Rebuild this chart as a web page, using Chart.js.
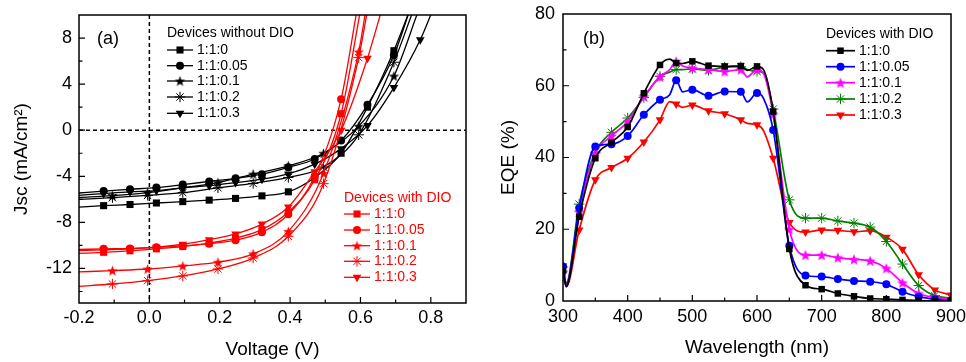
<!DOCTYPE html>
<html><head><meta charset="utf-8">
<script src="https://cdn.jsdelivr.net/npm/chart.js@4/dist/chart.umd.min.js"></script>
<style>
html,body{margin:0;padding:0;background:#fff;}
#wrap{position:relative;width:966px;height:362px;overflow:hidden;background:#fff;}
canvas{position:absolute;top:0;}
#ca{left:0;} #cb{left:483px;}
</style></head><body>
<div id="wrap"><canvas id="ca" width="483" height="362"></canvas><canvas id="cb" width="483" height="362"></canvas></div>
<script>
// ---------- data ----------
const ratioLabels = ['1:1:0','1:1:0.05','1:1:0.1','1:1:0.2','1:1:0.3'];

// Panel (a): devices without DIO (black)
const vNo0   = [-0.2,-0.13,-0.055,0.02,0.095,0.17,0.245,0.32,0.395,0.47,0.545,0.62,0.695,0.74];
const jNo0   = [-6.68,-6.55,-6.45,-6.32,-6.2,-6.07,-5.92,-5.7,-5.35,-4.1,-2.0,2.0,6.9,10.4];
const vNo005 = [-0.2,-0.13,-0.055,0.02,0.095,0.17,0.245,0.32,0.395,0.47,0.545,0.62,0.695,0.74];
const jNo005 = [-5.45,-5.28,-5.13,-4.98,-4.72,-4.45,-4.18,-3.82,-3.22,-2.5,-0.9,2.2,6.5,10.4];
const vNo01  = [-0.2,-0.105,-0.005,0.095,0.195,0.295,0.395,0.495,0.595,0.695,0.765];
const jNo01  = [-5.85,-5.68,-5.42,-5.0,-4.55,-3.81,-3.09,-2.0,0.35,4.7,10.4];
const vNo02  = [-0.2,-0.105,-0.005,0.095,0.195,0.295,0.395,0.495,0.595,0.695,0.75];
const jNo02  = [-6.0,-5.86,-5.66,-5.42,-5.0,-4.62,-4.1,-3.2,-0.4,5.9,10.4];
const vNo03  = [-0.2,-0.13,-0.055,0.02,0.095,0.17,0.245,0.32,0.395,0.47,0.545,0.62,0.695,0.77,0.805];
const jNo03  = [-5.65,-5.5,-5.35,-5.25,-5.0,-4.82,-4.55,-4.25,-3.8,-2.95,-1.6,0.4,3.7,7.85,10.4];

// Panel (a): devices with DIO (red)
const vW0   = [-0.2,-0.13,-0.055,0.02,0.095,0.17,0.245,0.32,0.395,0.47,0.545,0.60];
const jW0   = [-10.7,-10.6,-10.47,-10.3,-10.1,-9.8,-9.36,-8.63,-7.1,-4.3,1.43,10.4];
const vW005 = [-0.2,-0.13,-0.055,0.02,0.095,0.17,0.245,0.32,0.395,0.47,0.545,0.59];
const jW005 = [-10.35,-10.3,-10.27,-10.16,-10.05,-9.85,-9.55,-8.85,-7.3,-4.0,2.69,10.4];
const vW01  = [-0.2,-0.105,-0.005,0.095,0.195,0.295,0.395,0.495,0.595,0.615];
const jW01  = [-12.3,-12.19,-12.05,-11.78,-11.46,-10.73,-8.78,-3.74,6.8,10.4];
const vW02  = [-0.2,-0.105,-0.005,0.095,0.195,0.295,0.395,0.495,0.595,0.62];
const jW02  = [-13.55,-13.35,-13.06,-12.65,-12.04,-11.1,-9.21,-4.64,6.3,10.4];
const vW03  = [-0.2,-0.13,-0.055,0.02,0.095,0.17,0.245,0.32,0.395,0.47,0.545,0.62,0.66];
const jW03  = [-10.45,-10.38,-10.3,-10.15,-9.9,-9.5,-9.0,-8.15,-6.66,-3.6,0.0,6.25,10.4];

const xTicksA = [-0.2,0,0.2,0.4,0.6,0.8];
const yTicksA = [-12,-8,-4,0,4,8];

// Panel (b): EQE of devices with DIO
const wl     = [300,305,325,350,375,400,425,450,465,475,485,500,525,550,575,585,600,610,625,650,675,700,725,750,775,800,825,850,875,900];
const eqe0   = [8.5,4,23.5,39.8,44.2,48.5,57.9,65.8,67.4,66.3,66.2,66.8,65.6,65.4,65.5,64.3,65.4,64.5,52.8,14.5,4.4,3.3,2.1,1.3,0.7,0.5,0.3,0.1,0,0];
const eqe005 = [9.6,4.5,25.9,43.1,43.7,46,51.9,56.1,57.5,61.5,58.3,58.9,57.2,58.4,58.3,55.5,58,56.5,47.7,15.4,7.1,6.8,6.1,5.6,5.4,4.65,2.6,1.2,0.5,0.2];
const eqe01  = [8,4.3,24.8,41,46,50,57,62.5,64.5,66.8,65.5,64.9,64.5,64,64.5,62.5,64.5,63.5,52,20,12.8,12.8,12.1,11.6,11.2,9.1,5.1,2.1,1,0.5];
const eqe02  = [9.5,5,27,41.5,47,51,56.7,62.6,63.8,64.5,64.5,64.7,64.3,65.2,65.3,64.5,64,63.5,53.5,28.2,23.1,23.1,22.3,21.7,20.6,16.6,10.3,4.3,1.5,0.8];
const eqe03  = [7.5,4,19.8,33.8,37.2,39.8,44.3,50.5,55.6,54.9,54,54.6,53,52.2,50.5,49.5,49.1,47.5,39.8,21.9,19.2,19.8,19.7,19.3,19.6,17.8,14.4,7.3,3.1,1.7];

const xTicksB = [300,400,500,600,700,800,900];
const yTicksB = [0,20,40,60,80];

// ---------- helpers ----------
Chart.defaults.font.family = "'Liberation Sans', Arial, sans-serif";
Chart.defaults.color = '#000';

function makeStar(color, R) {
  const s = Math.ceil(2 * R + 2);
  const c = document.createElement('canvas');
  c.width = s; c.height = s;
  const g = c.getContext('2d');
  g.beginPath();
  for (let i = 0; i < 10; i++) {
    const r = i % 2 ? R * 0.42 : R;
    const a = -Math.PI / 2 + i * Math.PI / 5;
    g.lineTo(s / 2 + r * Math.cos(a), s / 2 + r * Math.sin(a) + 0.5);
  }
  g.closePath();
  g.fillStyle = color; g.fill();
  return c;
}

function markerOpts(kind, color, r) {
  if (kind === 'square') return {pointStyle: 'rect', r: r, rot: 0, bw: 0};
  if (kind === 'circle') return {pointStyle: 'circle', r: r, rot: 0, bw: 0};
  if (kind === 'tri') return {pointStyle: 'triangle', r: r, rot: 180, bw: 0};
  if (kind === 'star') return {pointStyle: makeStar(color, r), r: r, rot: 0, bw: 0};
  return {pointStyle: 'star', r: r, rot: 0, bw: 1};
}

function drawMarker(ctx, kind, color, r, x, y) {
  ctx.save();
  ctx.fillStyle = color; ctx.strokeStyle = color;
  ctx.beginPath();
  if (kind === 'square') {
    const s = r * Math.SQRT1_2;
    ctx.rect(x - s, y - s, 2 * s, 2 * s); ctx.fill();
  } else if (kind === 'circle') {
    ctx.arc(x, y, r, 0, Math.PI * 2); ctx.fill();
  } else if (kind === 'tri') {
    ctx.moveTo(x - r * 0.866, y - r * 0.5);
    ctx.lineTo(x + r * 0.866, y - r * 0.5);
    ctx.lineTo(x, y + r);
    ctx.closePath(); ctx.fill();
  } else if (kind === 'star') {
    const img = makeStar(color, r);
    ctx.drawImage(img, x - img.width / 2, y - img.height / 2);
  } else {
    ctx.lineWidth = 1;
    const o = r * Math.SQRT1_2;
    ctx.moveTo(x - r, y); ctx.lineTo(x + r, y);
    ctx.moveTo(x, y - r); ctx.lineTo(x, y + r);
    ctx.moveTo(x - o, y - o); ctx.lineTo(x + o, y + o);
    ctx.moveTo(x - o, y + o); ctx.lineTo(x + o, y - o);
    ctx.stroke();
  }
  ctx.restore();
}

function ivSet(V, J, color, kind, r) {
  const m = markerOpts(kind, color, r);
  const n = V.length;
  return {
    data: V.map((v, i) => ({x: v, y: J[i]})),
    borderColor: color, backgroundColor: color, borderWidth: 1.3,
    pointStyle: m.pointStyle, pointRotation: m.rot, pointBorderWidth: m.bw,
    pointBorderColor: color, pointBackgroundColor: color,
    pointRadius: (c) => (c.dataIndex === 0 || c.dataIndex === n - 1) ? 0 : m.r,
    cubicInterpolationMode: 'monotone', fill: false
  };
}

function eqeSet(vals, color, kind, r) {
  const m = markerOpts(kind, color, r);
  return {
    data: wl.map((w, i) => ({x: w, y: vals[i]})),
    borderColor: color, backgroundColor: color, borderWidth: 1.7,
    pointStyle: m.pointStyle, pointRotation: m.rot, pointBorderWidth: m.bw,
    pointBorderColor: color, pointBackgroundColor: color,
    pointRadius: (c) => (wl[c.dataIndex] % 25 === 0) ? m.r : 0,
    cubicInterpolationMode: 'monotone', fill: false
  };
}

function decoPlugin(cfg) {
  return {
    id: 'deco',
    beforeDatasetsDraw(chart) {
      if (!cfg.zeroLines) return;
      const {ctx, chartArea: a, scales: {x, y}} = chart;
      ctx.save();
      ctx.strokeStyle = '#000'; ctx.lineWidth = 1.5; ctx.setLineDash([4, 3]);
      const y0 = y.getPixelForValue(0), x0 = x.getPixelForValue(0);
      ctx.beginPath(); ctx.moveTo(a.left, y0); ctx.lineTo(a.right, y0); ctx.stroke();
      ctx.beginPath(); ctx.moveTo(x0, a.top); ctx.lineTo(x0, a.bottom); ctx.stroke();
      ctx.restore();
    },
    afterDraw(chart) {
      const {ctx, chartArea: a, scales: {x, y}} = chart;
      ctx.save();
      ctx.strokeStyle = '#000'; ctx.lineWidth = 1.5;
      ctx.strokeRect(a.left, a.top, a.right - a.left, a.bottom - a.top);
      ctx.lineWidth = 1.2;
      ctx.beginPath();
      cfg.xMajor.forEach(v => { const p = x.getPixelForValue(v); ctx.moveTo(p, a.bottom); ctx.lineTo(p, a.bottom - 6); });
      cfg.xMinor.forEach(v => { const p = x.getPixelForValue(v); ctx.moveTo(p, a.bottom); ctx.lineTo(p, a.bottom - 3.5); });
      cfg.yMajor.forEach(v => { const p = y.getPixelForValue(v); ctx.moveTo(a.left, p); ctx.lineTo(a.left + 6, p); });
      cfg.yMinor.forEach(v => { const p = y.getPixelForValue(v); ctx.moveTo(a.left, p); ctx.lineTo(a.left + 3.5, p); });
      ctx.stroke();
      ctx.font = "18px 'Liberation Sans', Arial, sans-serif";
      ctx.fillStyle = '#000'; ctx.textAlign = 'left'; ctx.textBaseline = 'middle';
      ctx.fillText(cfg.label[0], cfg.label[1], cfg.label[2]);
      cfg.legends.forEach(L => {
        ctx.font = "14px 'Liberation Sans', Arial, sans-serif";
        ctx.textAlign = 'left'; ctx.textBaseline = 'middle';
        ctx.fillStyle = L.titleColor;
        ctx.fillText(L.title, L.x, L.titleY);
        L.items.forEach((it, i) => {
          const yy = L.ys[i];
          ctx.strokeStyle = it.color; ctx.lineWidth = L.lw;
          ctx.beginPath(); ctx.moveTo(L.x, yy); ctx.lineTo(L.x + L.lineLen, yy); ctx.stroke();
          drawMarker(ctx, it.kind, it.color, it.r, L.x + L.lineLen / 2, yy);
          ctx.fillStyle = L.textColor;
          ctx.fillText(it.label, L.x + L.lineLen + 4, yy);
        });
      });
      ctx.restore();
    }
  };
}

function axisOpts(min, max, ticks, fmt, isX, size, tickPad, titleText, titlePad) {
  return {
    type: 'linear', min: min, max: max,
    grid: {display: false, drawTicks: false},
    border: {display: false},
    afterBuildTicks: (s) => { s.ticks = ticks.map(v => ({value: v})); },
    afterFit: (s) => {
      if (isX) s.height = size; else s.width = size;
      s.paddingLeft = 0; s.paddingRight = 0; s.paddingTop = 0; s.paddingBottom = 0;
    },
    ticks: {font: {size: 18}, padding: tickPad, maxRotation: 0, autoSkip: false, callback: fmt},
    title: {display: true, text: titleText, font: {size: 19}, padding: titlePad}
  };
}

// ---------- panel (a) ----------
const BLK = '#000000', RED = '#ff0000';
const kindsA = ['square', 'circle', 'star', 'ast', 'tri'];
const rA = {square: 5, circle: 4, star: 5.5, ast: 5.2, tri: 5};
const redV = [vW0, vW005, vW01, vW02, vW03], redJ = [jW0, jW005, jW01, jW02, jW03];
const blkV = [vNo0, vNo005, vNo01, vNo02, vNo03], blkJ = [jNo0, jNo005, jNo01, jNo02, jNo03];
const dsA = [];
for (let i = 0; i < 5; i++) dsA.push(ivSet(redV[i], redJ[i], RED, kindsA[i], rA[kindsA[i]]));
for (let i = 0; i < 5; i++) dsA.push(ivSet(blkV[i], blkJ[i], BLK, kindsA[i], rA[kindsA[i]]));

new Chart(document.getElementById('ca'), {
  type: 'line',
  data: {datasets: dsA},
  options: {
    responsive: false, animation: false, devicePixelRatio: 1,
    layout: {padding: {left: 0, right: 17, top: 15, bottom: 0}},
    plugins: {legend: {display: false}, tooltip: {enabled: false}},
    scales: {
      x: axisOpts(-0.2, 0.9, xTicksA, (v) => Number(v).toFixed(1), true, 59, 4, 'Voltage (V)', {top: 0, bottom: 1}),
      y: axisOpts(-15, 10, yTicksA, (v) => String(v), false, 79, 7, 'Jsc (mA/cm²)', {top: 10, bottom: 0})
    }
  },
  plugins: [decoPlugin({
    zeroLines: true,
    xMajor: [0, 0.2, 0.4, 0.6, 0.8], xMinor: [-0.1, 0.1, 0.3, 0.5, 0.7],
    yMajor: [-12, -8, -4, 0, 4, 8], yMinor: [-14, -10, -6, -2, 2, 6],
    label: ['(a)', 97, 39],
    legends: [
      {title: 'Devices without DIO', titleColor: BLK, textColor: BLK, x: 167, titleY: 33, lineLen: 26, lw: 1.3,
       ys: [50, 65.7, 81, 97, 113.3],
       items: ratioLabels.map((l, i) => ({label: l, color: BLK, kind: kindsA[i], r: rA[kindsA[i]]}))},
      {title: 'Devices with DIO', titleColor: RED, textColor: RED, x: 344, titleY: 198, lineLen: 26, lw: 1.3,
       ys: [214, 230, 245.7, 261.3, 277.3],
       items: ratioLabels.map((l, i) => ({label: l, color: RED, kind: kindsA[i], r: rA[kindsA[i]]}))}
    ]
  })]
});

// ---------- panel (b) ----------
const colorsB = ['#000000', '#0000ff', '#ff00ff', '#008000', '#ff0000'];
const kindsB = ['square', 'circle', 'star', 'ast', 'tri'];
const rB = {square: 4.6, circle: 4, star: 5.8, ast: 5.2, tri: 5};
const valsB = [eqe0, eqe005, eqe01, eqe02, eqe03];
const dsB = valsB.map((v, i) => eqeSet(v, colorsB[i], kindsB[i], rB[kindsB[i]]));

new Chart(document.getElementById('cb'), {
  type: 'line',
  data: {datasets: dsB},
  options: {
    responsive: false, animation: false, devicePixelRatio: 1,
    layout: {padding: {left: 0, right: 15, top: 14, bottom: 0}},
    plugins: {legend: {display: false}, tooltip: {enabled: false}},
    scales: {
      x: axisOpts(300, 900, xTicksB, (v) => String(v), true, 61, 5, 'Wavelength (nm)', {top: 0, bottom: 3}),
      y: axisOpts(0, 80, yTicksB, (v) => String(v), false, 80, 8, 'EQE (%)', {top: 14, bottom: 0})
    }
  },
  plugins: [decoPlugin({
    zeroLines: false,
    xMajor: [400, 500, 600, 700, 800], xMinor: [350, 450, 550, 650, 750, 850],
    yMajor: [20, 40, 60], yMinor: [10, 30, 50, 70],
    label: ['(b)', 100, 39],
    legends: [
      {title: 'Devices with DIO', titleColor: BLK, textColor: BLK, x: 343, titleY: 34, lineLen: 29, lw: 1.7,
       ys: [50.7, 66.7, 82.7, 99, 115],
       items: ratioLabels.map((l, i) => ({label: l, color: colorsB[i], kind: kindsB[i], r: rB[kindsB[i]]}))}
    ]
  })]
});
</script>
</body></html>
